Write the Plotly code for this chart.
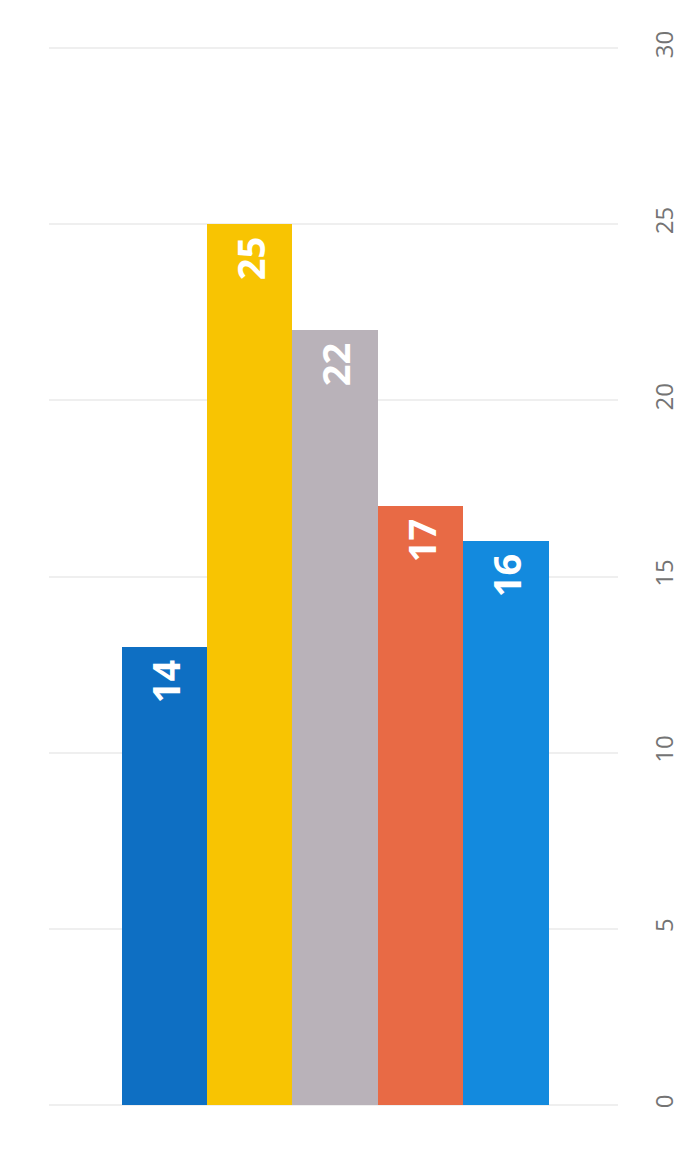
import plotly.graph_objects as go

categories = ["A", "B", "C", "D", "E"]
values = [13, 25, 22, 17, 16]
labels = ["14", "25", "22", "17", "16"]
colors = ["#0e6fc3", "#f8c402", "#b9b2b9", "#e86a45", "#138ade"]
tick_vals = [0, 5, 10, 15, 20, 25, 30]

xs = list(range(len(categories)))

fig = go.Figure()
fig.add_trace(go.Bar(
    x=xs,
    y=values,
    width=1.0,
    marker=dict(color=colors, line=dict(width=0)),
    text=[l + "\u00a0" for l in labels],
    textposition="inside",
    insidetextanchor="end",
    textangle=-90,
    textfont=dict(family="Open Sans", size=38, color="white", weight="bold"),
    hoverinfo="skip",
))

fig.update_layout(
    width=695,
    height=1153,
    margin=dict(l=41, r=85, t=39, b=55),
    paper_bgcolor="white",
    plot_bgcolor="white",
    showlegend=False,
    bargap=0,
    uniformtext=dict(minsize=10, mode="show"),
)
fig.update_xaxes(
    range=[-1.35, 5.31],
    showticklabels=False,
    showgrid=False,
    zeroline=False,
    showline=False,
)
fig.update_yaxes(
    range=[-0.03, 30.03],
    tickvals=tick_vals,
    side="right",
    tickangle=-90,
    tickfont=dict(family="Open Sans", size=24, color="#747474"),
    showgrid=True,
    gridcolor="#efefef",
    gridwidth=1.5,
    zeroline=True,
    zerolinecolor="#efefef",
    zerolinewidth=1.5,
    showline=False,
    ticklabelstandoff=30,
)

fig.write_html("out.html")
